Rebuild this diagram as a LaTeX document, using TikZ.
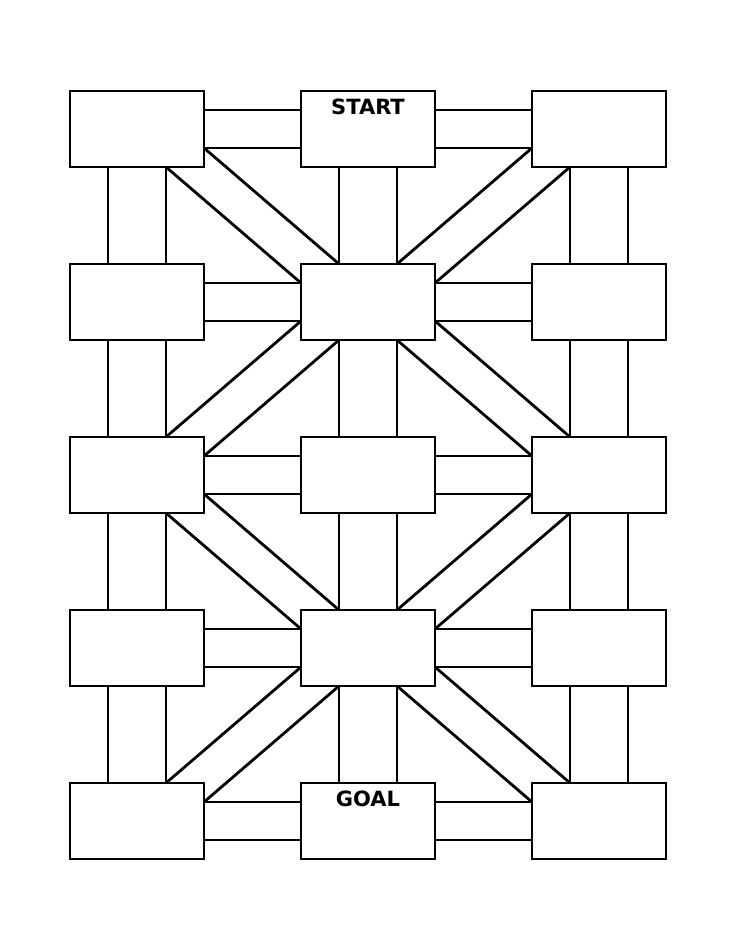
\documentclass[tikz,border=0pt]{standalone}
\usepackage{fontspec}
\setsansfont{DejaVu Sans}
\usetikzlibrary{calc}

\begin{document}
\begin{tikzpicture}[x=1pt, y=1pt, line width=2.8pt,
    box/.style={rectangle, draw=black, fill=white, minimum width=134pt, minimum height=76pt, inner sep=0pt, outer sep=0pt},
    tag/.style={font=\sffamily\bfseries\fontsize{21}{21}\selectfont, anchor=north, yshift=-3pt}]
    \useasboundingbox (0,0) rectangle (736,-952);

    \node[box] (a) at (137,-129) {};
    \node[box, label={[tag]north:START}] (b) at ($(a) + (231, 0)$) {};
    \node[box] (c) at ($(a) + (462, 0)$) {};

    \node[box] (d) at ($(a) + (0, -173)$) {};
    \node[box] (e) at ($(d) + (231, 0)$) {};
    \node[box] (f) at ($(d) + (462, 0)$) {};

    \node[box] (g) at ($(d) + (0, -173)$) {};
    \node[box] (h) at ($(g) + (231, 0)$) {};
    \node[box] (i) at ($(g) + (462, 0)$) {};

    \node[box] (j) at ($(g) + (0, -173)$) {};
    \node[box] (k) at ($(j) + (231, 0)$) {};
    \node[box] (l) at ($(j) + (462, 0)$) {};

    \node[box] (m) at ($(j) + (0, -173)$) {};
    \node[box, label={[tag]north:GOAL}] (n) at ($(m) + (231, 0)$) {};
    \node[box] (o) at ($(m) + (462, 0)$) {};

    % rows
    \draw ([yshift=19]a.east) -- ([yshift=19]b.west) ([yshift=-19]a.east) -- ([yshift=-19]b.west);
    \draw ([yshift=19]b.east) -- ([yshift=19]c.west) ([yshift=-19]b.east) -- ([yshift=-19]c.west);
    \draw ([yshift=19]d.east) -- ([yshift=19]e.west) ([yshift=-19]d.east) -- ([yshift=-19]e.west);
    \draw ([yshift=19]e.east) -- ([yshift=19]f.west) ([yshift=-19]e.east) -- ([yshift=-19]f.west);
    \draw ([yshift=19]g.east) -- ([yshift=19]h.west) ([yshift=-19]g.east) -- ([yshift=-19]h.west);
    \draw ([yshift=19]h.east) -- ([yshift=19]i.west) ([yshift=-19]h.east) -- ([yshift=-19]i.west);
    \draw ([yshift=19]j.east) -- ([yshift=19]k.west) ([yshift=-19]j.east) -- ([yshift=-19]k.west);
    \draw ([yshift=19]k.east) -- ([yshift=19]l.west) ([yshift=-19]k.east) -- ([yshift=-19]l.west);
    \draw ([yshift=19]m.east) -- ([yshift=19]n.west) ([yshift=-19]m.east) -- ([yshift=-19]n.west);
    \draw ([yshift=19]n.east) -- ([yshift=19]o.west) ([yshift=-19]n.east) -- ([yshift=-19]o.west);

    % columns
    \draw ([xshift=-29]a.south) -- ([xshift=-29]d.north) ([xshift=29]a.south) -- ([xshift=29]d.north);
    \draw ([xshift=-29]d.south) -- ([xshift=-29]g.north) ([xshift=29]d.south) -- ([xshift=29]g.north);
    \draw ([xshift=-29]g.south) -- ([xshift=-29]j.north) ([xshift=29]g.south) -- ([xshift=29]j.north);
    \draw ([xshift=-29]j.south) -- ([xshift=-29]m.north) ([xshift=29]j.south) -- ([xshift=29]m.north);
    \draw ([xshift=-29]b.south) -- ([xshift=-29]e.north) ([xshift=29]b.south) -- ([xshift=29]e.north);
    \draw ([xshift=-29]e.south) -- ([xshift=-29]h.north) ([xshift=29]e.south) -- ([xshift=29]h.north);
    \draw ([xshift=-29]h.south) -- ([xshift=-29]k.north) ([xshift=29]h.south) -- ([xshift=29]k.north);
    \draw ([xshift=-29]k.south) -- ([xshift=-29]n.north) ([xshift=29]k.south) -- ([xshift=29]n.north);
    \draw ([xshift=-29]c.south) -- ([xshift=-29]f.north) ([xshift=29]c.south) -- ([xshift=29]f.north);
    \draw ([xshift=-29]f.south) -- ([xshift=-29]i.north) ([xshift=29]f.south) -- ([xshift=29]i.north);
    \draw ([xshift=-29]i.south) -- ([xshift=-29]l.north) ([xshift=29]i.south) -- ([xshift=29]l.north);
    \draw ([xshift=-29]l.south) -- ([xshift=-29]o.north) ([xshift=29]l.south) -- ([xshift=29]o.north);

    % diagonals
    \draw ([yshift=-19]a.east) -- ([xshift=-29]e.north) ([xshift=29]a.south) -- ([yshift=19]e.west);
    \draw ([yshift=-19]c.west) -- ([xshift=29]e.north) ([xshift=-29]c.south) -- ([yshift=19]e.east);
    \draw ([yshift=-19]e.west) -- ([xshift=29]g.north) ([xshift=-29]e.south) -- ([yshift=19]g.east);
    \draw ([yshift=-19]e.east) -- ([xshift=-29]i.north) ([xshift=29]e.south) -- ([yshift=19]i.west);
    \draw ([yshift=-19]g.east) -- ([xshift=-29]k.north) ([xshift=29]g.south) -- ([yshift=19]k.west);
    \draw ([yshift=-19]i.west) -- ([xshift=29]k.north) ([xshift=-29]i.south) -- ([yshift=19]k.east);
    \draw ([yshift=-19]k.west) -- ([xshift=29]m.north) ([xshift=-29]k.south) -- ([yshift=19]m.east);
    \draw ([yshift=-19]k.east) -- ([xshift=-29]o.north) ([xshift=29]k.south) -- ([yshift=19]o.west);

\end{tikzpicture}
\end{document}
